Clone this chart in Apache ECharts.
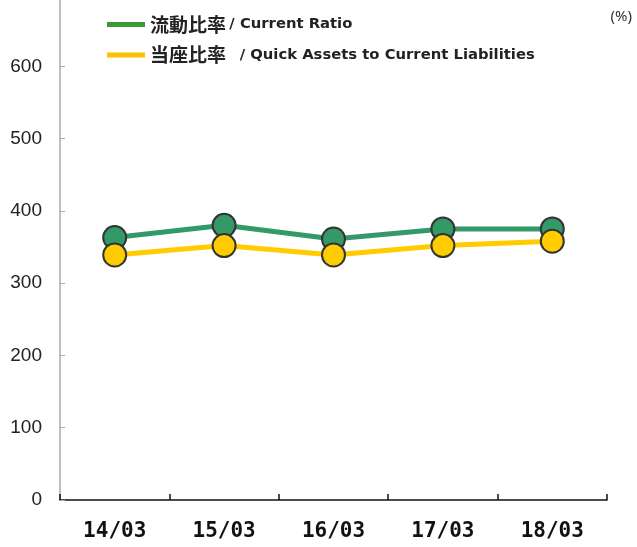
<!DOCTYPE html>
<html>
<head>
<meta charset="utf-8">
<script src="https://cdn.jsdelivr.net/npm/echarts@6/dist/echarts.min.js"></script>
<style>html,body{margin:0;padding:0;background:#fff}#c{width:637px;height:547px}</style>
</head>
<body>
<div id="c"></div>
<script>
var categories = ['14/03', '15/03', '16/03', '17/03', '18/03'];
var currentRatio = [363, 380, 361, 375, 375];
var quickRatio = [339, 352, 339, 352, 358];
var seriesNames = ['流動比率', '当座比率'];
var seriesEnglish = ['/ Current Ratio', '  / Quick Assets to Current Liabilities'];
var yTicks = { min: 0, max: 700, interval: 100 };

var chart = echarts.init(document.getElementById('c'));
chart.setOption({
  animation: false,
  backgroundColor: '#fff',
  grid: { left: 60, right: 30, top: -6, bottom: 47, outerBoundsMode: 'none', containLabel: false },
  legend: {
    orient: 'vertical',
    left: 102,
    top: 10,
    itemWidth: 38,
    itemHeight: 5,
    itemGap: 11.5,
    selectedMode: false,
    data: [
      { name: seriesNames[0], icon: 'rect', itemStyle: { color: '#3a9a3a', borderWidth: 0 } },
      { name: seriesNames[1], icon: 'rect', itemStyle: { color: '#FFC000', borderWidth: 0 } }
    ],
    formatter: function (name) {
      var i = seriesNames.indexOf(name);
      return '{c|' + name + '} {e|' + seriesEnglish[i] + '}';
    },
    textStyle: {
      padding: [0, 0, 0, 0],
      rich: {
        c: { fontFamily: 'Noto Sans CJK JP', fontWeight: 'bold', fontSize: 19, color: '#222', lineHeight: 22 },
        e: { fontFamily: 'DejaVu Sans', fontWeight: 'bold', fontSize: 14.8, color: '#222', lineHeight: 22 }
      }
    }
  },
  graphic: [{
    type: 'text', right: 5, top: 9,
    style: { text: '(%)', font: '15px "Noto Sans"', fill: '#333' }
  }],
  xAxis: {
    type: 'category',
    data: categories,
    boundaryGap: true,
    axisLine: { lineStyle: { color: '#111', width: 1.5 } },
    axisTick: { show: true, inside: true, length: 6, lineStyle: { color: '#111', width: 1.5 } },
    axisLabel: { margin: 21, fontFamily: 'DejaVu Sans Mono', fontWeight: 'bold', fontSize: 21, color: '#111' },
    splitLine: { show: false }
  },
  yAxis: {
    type: 'value',
    min: yTicks.min, max: yTicks.max, interval: yTicks.interval,
    axisLine: { show: true, lineStyle: { color: '#aaa', width: 1.5 } },
    axisTick: { show: true, inside: true, length: 5, lineStyle: { color: '#aaa' } },
    axisLabel: { margin: 18, fontFamily: 'Liberation Sans', fontSize: 19, color: '#222' },
    splitLine: { show: false }
  },
  series: [
    {
      name: seriesNames[0], type: 'line', data: currentRatio,
      symbol: 'circle', symbolSize: 23,
      lineStyle: { color: '#339966', width: 5 },
      itemStyle: { color: '#339966', borderColor: '#333', borderWidth: 2 }
    },
    {
      name: seriesNames[1], type: 'line', data: quickRatio,
      symbol: 'circle', symbolSize: 23,
      lineStyle: { color: '#FFCC00', width: 5 },
      itemStyle: { color: '#FFCC00', borderColor: '#333', borderWidth: 2 }
    }
  ]
});
</script>
</body>
</html>
